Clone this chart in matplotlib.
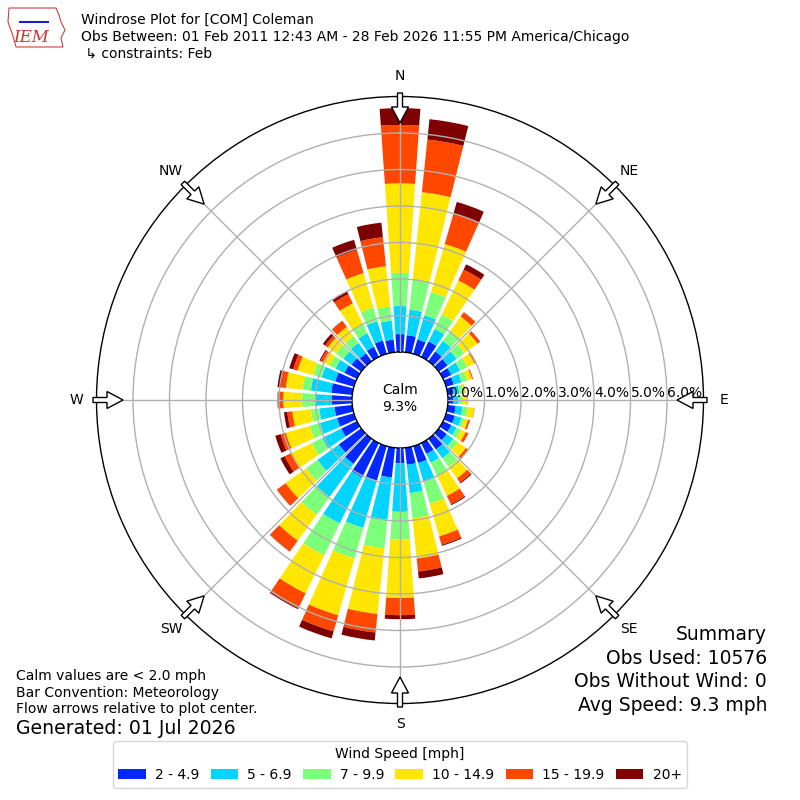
import numpy as np
import matplotlib
matplotlib.use("Agg")
import matplotlib.pyplot as plt
from matplotlib.patches import Patch, FancyArrow, Polygon

# ---------------- data ----------------
directions = list(range(0, 360, 10))
speed_labels = ["2 - 4.9", "5 - 6.9", "7 - 9.9", "10 - 14.9", "15 - 19.9", "20+"]
speed_colors = ["#0028ff", "#00d4ff", "#7cff79", "#ffe600", "#ff4700", "#7f0000"]

# frequency [%] per direction bin (0,10,...,350 deg) for each speed class
spd_2_5 = [0.49, 0.47, 0.41, 0.47, 0.33, 0.30, 0.25, 0.22, 0.16, 0.14, 0.22, 0.25,
           0.25, 0.27, 0.36, 0.33, 0.48, 0.47, 0.42, 0.82, 0.98, 1.04, 0.85, 0.76,
           0.48, 0.48, 0.49, 0.56, 0.58, 0.53, 0.38, 0.33, 0.27, 0.31, 0.38, 0.35]
spd_5_7 = [0.77, 0.70, 0.69, 0.38, 0.36, 0.30, 0.27, 0.22, 0.16, 0.14, 0.19, 0.19,
           0.16, 0.22, 0.30, 0.27, 0.53, 0.78, 1.33, 1.16, 1.35, 1.41, 1.12, 0.72,
           0.58, 0.49, 0.42, 0.46, 0.56, 0.39, 0.27, 0.27, 0.35, 0.41, 0.55, 0.52]
spd_7_10 = [0.91, 0.83, 0.66, 0.44, 0.33, 0.27, 0.22, 0.16, 0.11, 0.11, 0.14, 0.08,
            0.14, 0.16, 0.30, 0.41, 0.63, 0.69, 0.76, 0.79, 0.87, 0.97, 0.60, 0.39,
            0.32, 0.29, 0.23, 0.36, 0.23, 0.24, 0.19, 0.26, 0.23, 0.27, 0.39, 0.39]
spd_10_15 = [2.45, 2.41, 1.37, 1.04, 0.49, 0.44, 0.22, 0.14, 0.05, 0.14, 0.18, 0.11,
             0.14, 0.27, 0.38, 0.60, 0.93, 1.11, 1.60, 1.81, 1.62, 1.16, 0.88, 0.69,
             0.63, 0.68, 0.51, 0.50, 0.46, 0.44, 0.19, 0.27, 0.31, 0.64, 0.98, 1.11]
spd_15_20 = [1.60, 1.45, 0.88, 0.33, 0.14, 0.08, 0.05, 0.03, 0.01, 0.01, 0.01, 0.05,
             0.08, 0.08, 0.14, 0.25, 0.24, 0.36, 0.47, 0.51, 0.46, 0.45, 0.36, 0.29,
             0.19, 0.15, 0.14, 0.14, 0.14, 0.13, 0.08, 0.09, 0.20, 0.28, 0.66, 0.80]
spd_20p = [0.46, 0.56, 0.32, 0.16, 0.01, 0.01, 0.00, 0.00, 0.00, 0.00, 0.00, 0.00,
           0.00, 0.00, 0.03, 0.03, 0.03, 0.19, 0.11, 0.22, 0.20, 0.03, 0.01, 0.01,
           0.13, 0.15, 0.09, 0.02, 0.09, 0.11, 0.03, 0.08, 0.01, 0.09, 0.29, 0.40]
series = [spd_2_5, spd_5_7, spd_7_10, spd_10_15, spd_15_20, spd_20p]

rings = [0, 1, 2, 3, 4, 5, 6]
calm_pct = 9.3
compass = ["N", "NE", "E", "SE", "S", "SW", "W", "NW"]
compass_deg = [0, 45, 90, 135, 180, 225, 270, 315]

title_lines = ["Windrose Plot for [COM] Coleman",
               "Obs Between: 01 Feb 2011 12:43 AM - 28 Feb 2026 11:55 PM America/Chicago",
               " \u21b3 constraints: Feb"]
left_notes = ["Calm values are < 2.0 mph", "Bar Convention: Meteorology",
              "Flow arrows relative to plot center."]
generated = "Generated: 01 Jul 2026"
summary = ["Summary", "Obs Used: 10576", "Obs Without Wind: 0", "Avg Speed: 9.3 mph"]

# ---------------- figure ----------------
W = 800.0
fig = plt.figure(figsize=(8, 8), dpi=100)
R_OUT = 303.5          # px, outer circle
R_CALM = 48.0          # px, calm circle
RMAX = 7.0
px_per_unit = (R_OUT - R_CALM) / RMAX
origin = -R_CALM / px_per_unit

ax = fig.add_axes([(400 - R_OUT) / W, (400 - R_OUT) / W, 2 * R_OUT / W, 2 * R_OUT / W],
                  projection="polar")
ax.set_theta_zero_location("N")
ax.set_theta_direction(-1)
ax.set_rorigin(origin)
ax.set_ylim(0, RMAX)

theta = np.deg2rad(directions)
width = np.deg2rad(8.0)
bottom = np.zeros(len(directions))
for vals, col in zip(series, speed_colors):
    v = np.array(vals)
    ax.bar(theta, v, width=width, bottom=bottom, color=col, edgecolor="none",
           align="center", zorder=1)
    bottom = bottom + v

ax.set_xticks(np.deg2rad(compass_deg))
ax.set_xticklabels([])
ax.set_yticks(rings[1:])
ax.set_yticklabels([])
ax.grid(True, color="#b0b0b0", linewidth=1.0, zorder=2)
ax.set_axisbelow(False)
ax.spines["polar"].set_color("black")
ax.spines["polar"].set_linewidth(1.0)
ax.spines["inner"].set_visible(True)
ax.spines["inner"].set_color("black")
ax.spines["inner"].set_linewidth(1.0)

for r in rings:
    ax.text(np.pi / 2, r, f"{r:.1f}%", ha="left", va="bottom", fontsize=10, zorder=5)

fig.text(0.5, 1 - 390 / W, "Calm", ha="center", va="center", fontsize=10)
fig.text(0.5, 1 - 407 / W, f"{calm_pct:.1f}%", ha="center", va="center", fontsize=10)

# compass labels and flow arrows
for lab, d in zip(compass, compass_deg):
    a = np.deg2rad(d)
    sx, sy = np.sin(a), np.cos(a)
    rl = 324.0
    fig.text((400 + rl * sx) / W, (400 + rl * sy) / W, lab, ha="center", va="center",
             fontsize=10)
    r0, r1 = 307.0, 277.0
    x0, y0 = (400 + r0 * sx) / W, (400 + r0 * sy) / W
    dx, dy = (r1 - r0) * sx / W, (r1 - r0) * sy / W
    arr = FancyArrow(x0, y0, dx, dy, width=5 / W, head_width=17 / W,
                     head_length=16 / W, length_includes_head=True,
                     facecolor="white", edgecolor="black", linewidth=1.0,
                     transform=fig.transFigure, zorder=10)
    fig.add_artist(arr)

# title
for i, line in enumerate(title_lines):
    fig.text(81 / W, 1 - (20 + 17 * i) / W, line, ha="left", va="center", fontsize=10)

# logo approximation
iowa = [(9, 8), (56, 8), (59, 15), (61, 22), (65, 30), (61, 38), (63, 47),
        (16, 47), (13, 36), (8, 22)]
poly = Polygon([(x / W, 1 - y / W) for x, y in iowa], closed=True, facecolor="none",
               edgecolor="#d04040", linewidth=0.8, transform=fig.transFigure)
fig.add_artist(poly)
fig.add_artist(plt.Line2D([20 / W, 48 / W], [1 - 22 / W, 1 - 22 / W], color="#2020c0",
                          linewidth=1.5, transform=fig.transFigure))
fig.text(31 / W, 1 - 38 / W, "IEM", ha="center", va="center", fontsize=12,
         color="#d03030", style="italic", family="DejaVu Serif")

# bottom-left notes
for i, line in enumerate(left_notes):
    fig.text(16 / W, 1 - (676 + 16.6 * i) / W, line, ha="left", va="center", fontsize=10)
fig.text(16 / W, 1 - 728 / W, generated, ha="left", va="center", fontsize=13.6)

# summary
for i, line in enumerate(summary):
    fig.text(767 / W, 1 - (635 + 23.4 * i) / W, line, ha="right", va="center",
             fontsize=13.5)

# legend
handles = [Patch(facecolor=c, edgecolor="none", label=l)
           for c, l in zip(speed_colors, speed_labels)]
leg = fig.legend(handles=handles, ncol=6, loc="center",
                 bbox_to_anchor=(0.5, 1 - 764.5 / W), title="Wind Speed [mph]",
                 fontsize=10, title_fontsize=10, handlelength=2.0, handleheight=0.7,
                 handletextpad=0.65, columnspacing=0.8, frameon=True)
leg.get_frame().set_edgecolor("#cccccc")

fig.savefig("out.png", dpi=100)
